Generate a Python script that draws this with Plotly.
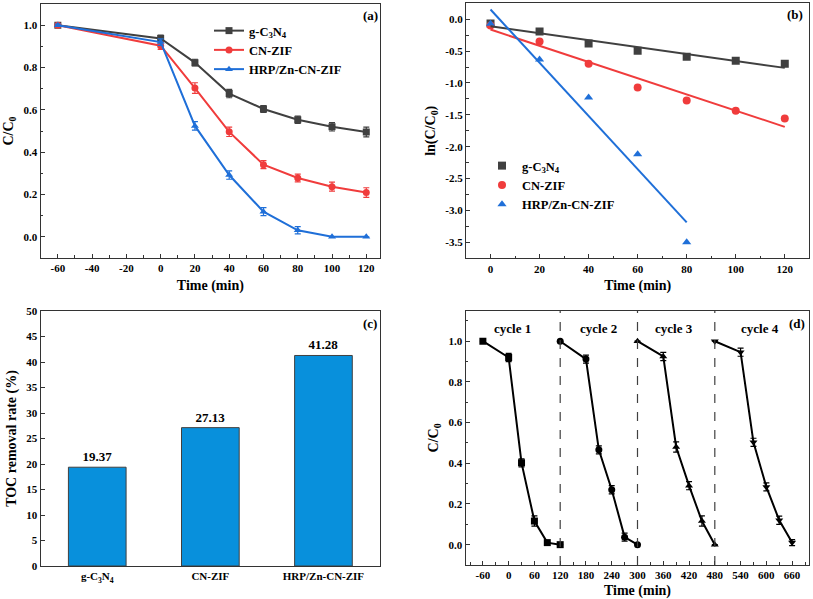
import plotly.graph_objects as go
from plotly.subplots import make_subplots

# --------------------------------------------------
# Data
# --------------------------------------------------

time_a = [-60, 0, 20, 40, 60, 80, 100, 120]
gcn_a = [1.0, 0.937, 0.823, 0.677, 0.604, 0.553, 0.520, 0.495]
gcn_a_err = [0.005, 0.016, 0.016, 0.02, 0.016, 0.017, 0.02, 0.023]
cnzif_a = [1.0, 0.903, 0.703, 0.496, 0.341, 0.278, 0.237, 0.209]
cnzif_a_err = [0.005, 0.017, 0.025, 0.022, 0.019, 0.018, 0.021, 0.023]
hrp_a = [1.0, 0.920, 0.524, 0.292, 0.119, 0.031, 0.0, 0.0]
hrp_a_err = [0.005, 0.015, 0.02, 0.02, 0.019, 0.017, 0.0, 0.0]

time_b = [0, 20, 40, 60, 80, 100, 120]
gcn_ln = [-0.068, -0.193, -0.381, -0.496, -0.59, -0.653, -0.70]
cnzif_ln = [-0.10, -0.35, -0.70, -1.07, -1.275, -1.437, -1.557]
time_b_hrp = [0, 20, 40, 60, 80]
hrp_ln = [-0.07, -0.632, -1.228, -2.116, -3.5]

fit_gcn_x = [0, 120]
fit_gcn_y = [-0.11, -0.763]
fit_cnzif_x = [0, 120]
fit_cnzif_y = [-0.162, -1.688]
fit_hrp_x = [0, 80]
fit_hrp_y = [0.152, -3.186]

samples = ["g-C<sub>3</sub>N<sub>4</sub>", "CN-ZIF", "HRP/Zn-CN-ZIF"]
toc_removal = [19.37, 27.13, 41.28]

cycle_names = ["cycle 1", "cycle 2", "cycle 3", "cycle 4"]
cycle_times = [
    [-60, 0, 30, 60, 90, 120],
    [120, 180, 210, 240, 270, 300],
    [300, 360, 390, 420, 450, 480],
    [480, 540, 570, 600, 630, 660],
]
cycle_values = [
    [1.0, 0.92, 0.402, 0.116, 0.01, 0.0],
    [1.0, 0.912, 0.466, 0.27, 0.037, 0.0],
    [1.0, 0.925, 0.48, 0.29, 0.116, 0.0],
    [1.0, 0.946, 0.503, 0.284, 0.12, 0.01],
]
cycle_errors = [
    [0.0, 0.02, 0.02, 0.025, 0.0, 0.0],
    [0.0, 0.02, 0.02, 0.02, 0.02, 0.0],
    [0.0, 0.02, 0.025, 0.02, 0.025, 0.0],
    [0.0, 0.02, 0.02, 0.02, 0.02, 0.015],
]
cycle_symbols = ["square", "circle", "triangle-up", "triangle-down"]
cycle_breaks = [120, 300, 480]
cycle_label_x = [8, 210, 385, 585]

# tick labels (plain hyphen for negatives, as in the original)
ticks_a_x = [-60, -40, -20, 0, 20, 40, 60, 80, 100, 120]
ticks_b_y = [0.0, -0.5, -1.0, -1.5, -2.0, -2.5, -3.0, -3.5]
ticks_d_x = [-60, 0, 60, 120, 180, 240, 300, 360, 420, 480, 540, 600, 660]

GRAY = "#404040"
RED = "#f03c3c"
BLUE = "#1f6fd8"
FONT = "Liberation Serif"

W, H = 813, 599

fig = make_subplots(rows=2, cols=2)

# --------------------------------------------------
# (a) C/C0 vs time
# --------------------------------------------------

for name, ys, err, color, sym in [
    ("g-C<sub>3</sub>N<sub>4</sub>", gcn_a, gcn_a_err, GRAY, "square"),
    ("CN-ZIF", cnzif_a, cnzif_a_err, RED, "circle"),
    ("HRP/Zn-CN-ZIF", hrp_a, hrp_a_err, BLUE, "triangle-up"),
]:
    fig.add_trace(
        go.Scatter(
            x=time_a, y=ys, name=name, mode="lines+markers",
            line=dict(color=color, width=2),
            marker=dict(color=color, symbol=sym, size=7),
            error_y=dict(type="data", array=err, color=color,
                         thickness=1.2, width=3),
            legend="legend",
        ),
        row=1, col=1
    )

# --------------------------------------------------
# (b) ln(C/C0) kinetics
# --------------------------------------------------

for name, xs, ys, color, sym in [
    ("g-C<sub>3</sub>N<sub>4</sub>", time_b, gcn_ln, GRAY, "square"),
    ("CN-ZIF", time_b, cnzif_ln, RED, "circle"),
    ("HRP/Zn-CN-ZIF", time_b_hrp, hrp_ln, BLUE, "triangle-up"),
]:
    fig.add_trace(
        go.Scatter(
            x=xs, y=ys, name=name, mode="markers",
            marker=dict(color=color, symbol=sym, size=8),
            legend="legend2",
        ),
        row=1, col=2
    )

for xs, ys, color in [
    (fit_gcn_x, fit_gcn_y, GRAY),
    (fit_cnzif_x, fit_cnzif_y, RED),
    (fit_hrp_x, fit_hrp_y, BLUE),
]:
    fig.add_trace(
        go.Scatter(
            x=xs, y=ys, mode="lines", showlegend=False,
            line=dict(color=color, width=2),
        ),
        row=1, col=2
    )

# --------------------------------------------------
# (c) TOC removal
# --------------------------------------------------

fig.add_trace(
    go.Bar(
        x=samples, y=toc_removal, width=0.51,
        marker=dict(color="#0890dc", line=dict(color="#404040", width=1)),
        text=[f"{v:.2f}" for v in toc_removal],
        textposition="outside",
        textfont=dict(size=13, color="black"),
        cliponaxis=False, showlegend=False,
    ),
    row=2, col=1
)

# --------------------------------------------------
# (d) Recycling cycles
# --------------------------------------------------

for xs, ys, err, sym in zip(cycle_times, cycle_values, cycle_errors, cycle_symbols):
    fig.add_trace(
        go.Scatter(
            x=xs, y=ys, mode="lines+markers", showlegend=False,
            line=dict(color="black", width=2),
            marker=dict(color="black", symbol=sym, size=7),
            error_y=dict(type="data", array=err, color="black",
                         thickness=1.2, width=3),
        ),
        row=2, col=2
    )

for xb in cycle_breaks:
    fig.add_shape(
        type="line", x0=xb, x1=xb, y0=0, y1=1,
        xref="x4", yref="y4 domain",
        line=dict(color="#404040", width=1.2, dash="dash"),
    )

for name, xl in zip(cycle_names, cycle_label_x):
    fig.add_annotation(
        x=xl, y=1.062, xref="x4", yref="y4", text=name,
        showarrow=False, font=dict(size=13),
    )

# --------------------------------------------------
# Axes and layout
# --------------------------------------------------

def px_x(a, b):
    return [a / W, b / W]


def px_y(top, bottom):
    return [1 - bottom / H, 1 - top / H]


def hyphen(vals, fmt):
    return [format(v, fmt) for v in vals]


axis_common = dict(
    showline=True, linecolor="#333333", linewidth=1.3, mirror=True,
    ticks="inside", ticklen=4, tickcolor="#333333", tickwidth=1.2,
    showgrid=False, zeroline=False, automargin=False,
    tickfont=dict(size=11, color="black"),
    title_font=dict(size=14, color="black"),
)
minor_common = dict(ticks="inside", ticklen=2.5, tickcolor="#333333",
                    tickwidth=1, showgrid=False)

fig.update_xaxes(axis_common)
fig.update_yaxes(axis_common)

fig.update_layout(
    xaxis=dict(domain=px_x(40.7, 380), range=[-70, 128],
               tickvals=ticks_a_x, ticktext=hyphen(ticks_a_x, "d"),
               minor=dict(dtick=10, tick0=0, **minor_common),
               title=dict(text="Time (min)", standoff=6)),
    yaxis=dict(domain=px_y(4, 258), range=[-0.1, 1.1], dtick=0.2,
               tickformat=".1f", minor=dict(dtick=0.1, **minor_common),
               title=dict(text="C/C<sub>0</sub>", standoff=6)),
    xaxis2=dict(domain=px_x(466, 809.3), range=[-10, 130], dtick=20,
                minor=dict(dtick=10, **minor_common),
                title=dict(text="Time (min)", standoff=6)),
    yaxis2=dict(domain=px_y(3.3, 258.3), range=[-3.75, 0.25],
                tickvals=ticks_b_y, ticktext=hyphen(ticks_b_y, ".1f"),
                minor=dict(dtick=0.25, tick0=0, **minor_common),
                title=dict(text="ln(C/C<sub>0</sub>)", standoff=6)),
    xaxis3=dict(domain=px_x(40.7, 380), range=[-0.5, 2.5], ticks=""),
    yaxis3=dict(domain=px_y(311, 566), range=[0, 50], dtick=5,
                title=dict(text="TOC removal rate (%)", standoff=6)),
    xaxis4=dict(domain=px_x(465.7, 809.3), range=[-100, 700],
                tickvals=ticks_d_x, ticktext=hyphen(ticks_d_x, "d"),
                minor=dict(dtick=30, tick0=0, **minor_common),
                title=dict(text="Time (min)", standoff=7)),
    yaxis4=dict(domain=px_y(310.7, 565), range=[-0.1, 1.15], dtick=0.2,
                tickformat=".1f", minor=dict(dtick=0.1, **minor_common),
                title=dict(text="C/C<sub>0</sub>", standoff=6)),
)

for txt, xp, yp in [("(a)", 370.5, 15.3), ("(b)", 795, 14.7),
                    ("(c)", 370, 323.3), ("(d)", 796.7, 323.7)]:
    fig.add_annotation(
        x=xp / W, y=1 - yp / H, xref="paper", yref="paper", text=txt,
        xanchor="center", yanchor="middle",
        showarrow=False, font=dict(size=13),
    )

fig.update_layout(
    template="none",
    width=W, height=H,
    margin=dict(l=0, r=0, t=0, b=0, autoexpand=False),
    paper_bgcolor="white", plot_bgcolor="white",
    font=dict(family=FONT, weight="bold", color="black"),
    legend=dict(x=209 / W, y=1 - 16 / H, xanchor="left", yanchor="top",
                bgcolor="rgba(0,0,0,0)", font=dict(size=12.5),
                tracegroupgap=0),
    legend2=dict(x=482 / W, y=1 - 151 / H, xanchor="left", yanchor="top",
                 bgcolor="rgba(0,0,0,0)", font=dict(size=12.5)),
    bargap=0.49,
)

fig.write_html(
    "out.html",
    config={"displayModeBar": False},
    post_script="document.body.style.margin='0';"
)
